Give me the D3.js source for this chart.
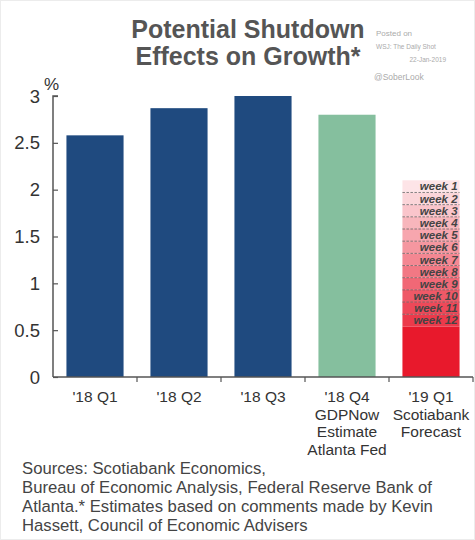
<!DOCTYPE html>
<html>
<head>
<meta charset="utf-8">
<script src="https://cdn.jsdelivr.net/npm/d3@7"></script>
<style>
  body { margin: 0; background: #fff; }
  text { font-family: "Liberation Sans", Arial, sans-serif; }
</style>
</head>
<body>
<svg id="chart"></svg>
<script>
// values
const categories = ["'18 Q1", "'18 Q2", "'18 Q3", "'18 Q4", "'19 Q1"];
const catLines = [["'18 Q1"], ["'18 Q2"], ["'18 Q3"], ["'18 Q4", "GDPNow", "Estimate", "Atlanta Fed"], ["'19 Q1", "Scotiabank", "Forecast"]];
const growth = [2.58, 2.87, 3.0, 2.8, 0.54];
const barKind = ["actual", "actual", "actual", "nowcast", "forecast"];
const weekLabels = ["week 1", "week 2", "week 3", "week 4", "week 5", "week 6", "week 7", "week 8", "week 9", "week 10", "week 11", "week 12"];
const weekCut = [0.13, 0.13, 0.13, 0.13, 0.13, 0.13, 0.13, 0.13, 0.13, 0.13, 0.13, 0.13];
const yTicks = [0, 0.5, 1, 1.5, 2, 2.5, 3];
const sourceLines = [
  "Sources: Scotiabank Economics,",
  "Bureau of Economic Analysis, Federal Reserve Bank of",
  "Atlanta.* Estimates based on comments made by Kevin",
  "Hassett, Council of Economic Advisers"
];

const width = 475, height = 540;
const colors = {actual: "#1f4a7f", nowcast: "#85bf9e", forecast: "#e8192c"};

const svg = d3.select("#chart").attr("width", width).attr("height", height);

svg.append("rect").attr("x", 0.5).attr("y", 0.5).attr("width", width - 1).attr("height", height - 1)
  .attr("fill", "#fff").attr("stroke", "#ececec");

const x = d3.scaleBand().domain(categories).range([53, 473]).paddingInner(0.32).paddingOuter(0.16);
const y = d3.scaleLinear().domain([0, 3]).range([377, 96]);

// title
svg.append("text").attr("x", 248).attr("y", 38).attr("text-anchor", "middle")
  .attr("font-size", 25).attr("font-weight", "bold").attr("fill", "#555").text("Potential Shutdown");
svg.append("text").attr("x", 248).attr("y", 65).attr("text-anchor", "middle")
  .attr("font-size", 25).attr("font-weight", "bold").attr("fill", "#555").text("Effects on Growth*");

// posted-on note
svg.append("text").attr("x", 376).attr("y", 36).attr("font-size", 8).attr("fill", "#aaa").text("Posted on");
svg.append("text").attr("x", 376).attr("y", 49).attr("font-size", 6.5).attr("fill", "#aaa").text("WSJ: The Daily Shot");
svg.append("text").attr("x", 446).attr("y", 62).attr("text-anchor", "end").attr("font-size", 6.5).attr("fill", "#aaa").text("22-Jan-2019");
svg.append("text").attr("x", 374).attr("y", 80).attr("font-size", 8.5).attr("fill", "#aaa").text("@SoberLook");

// y axis
const yAxis = svg.append("g").attr("transform", "translate(53,0)")
  .call(d3.axisRight(y).tickValues(yTicks).tickSize(5).tickFormat(""));
yAxis.select(".domain").attr("stroke", "#555").attr("stroke-width", 1.5).attr("d", `M5,${y(3)}H0V${y(0)}`);
yAxis.selectAll(".tick line").attr("stroke", "#555").attr("stroke-width", 1.2);

svg.append("g").selectAll("text").data(yTicks).join("text")
  .attr("x", 40).attr("y", d => y(d) + 6.5).attr("text-anchor", "end")
  .attr("font-size", 18.5).attr("fill", "#333").text(d => d);
svg.append("text").attr("x", 44).attr("y", 90).attr("font-size", 17).attr("fill", "#333").text("%");

// bars
svg.append("g").selectAll("rect").data(categories).join("rect")
  .attr("x", d => x(d)).attr("width", x.bandwidth())
  .attr("y", (d, i) => y(growth[i])).attr("height", (d, i) => y(0) - y(growth[i]))
  .attr("fill", (d, i) => colors[barKind[i]]);

// shutdown weeks stacked on the forecast bar (week 12 at the bottom)
const fc = categories[4];
let acc = growth[4];
const segs = [];
for (let i = weekCut.length - 1; i >= 0; i--) {
  segs.push({label: weekLabels[i], idx: i, y0: acc, y1: acc + weekCut[i]});
  acc += weekCut[i];
}
const pink = d3.scaleLinear().domain([0, weekCut.length - 1]).range(["#fde4e7", "#ec3a4b"]);
const wk = svg.append("g");
wk.selectAll("rect").data(segs).join("rect")
  .attr("x", x(fc)).attr("width", x.bandwidth())
  .attr("y", d => y(d.y1)).attr("height", d => y(d.y0) - y(d.y1))
  .attr("fill", d => pink(d.idx));
wk.selectAll("line").data(segs.filter(d => d.idx < weekCut.length - 1)).join("line")
  .attr("x1", x(fc)).attr("x2", x(fc) + x.bandwidth())
  .attr("y1", d => y(d.y0)).attr("y2", d => y(d.y0))
  .attr("stroke", "#666").attr("stroke-width", 0.8).attr("stroke-dasharray", "2.5,1.5");
wk.selectAll("text").data(segs).join("text")
  .attr("x", x(fc) + x.bandwidth() - 2).attr("y", d => y(d.y0) - 2)
  .attr("text-anchor", "end").attr("font-size", 11.5).attr("font-weight", "bold")
  .attr("font-style", "italic").attr("fill", "#444").text(d => d.label);

// x axis
const xAxis = svg.append("g").attr("transform", `translate(0,${y(0)})`)
  .call(d3.axisBottom(x).tickSize(0).tickFormat(""));
xAxis.select(".domain").attr("stroke", "#555").attr("stroke-width", 1.5).attr("d", "M53,0H473");
const step = x.step();
xAxis.selectAll("line.sep").data(d3.range(1, categories.length + 1)).join("line")
  .attr("class", "sep")
  .attr("x1", i => 53 + i * step).attr("x2", i => 53 + i * step)
  .attr("y1", 0).attr("y2", 5).attr("stroke", "#555").attr("stroke-width", 1.2);

const xl = svg.append("g");
categories.forEach((c, i) => {
  xl.append("text").attr("x", x(c) + x.bandwidth() / 2).attr("y", 402)
    .attr("text-anchor", "middle").attr("font-size", 15.5).attr("fill", "#333")
    .selectAll("tspan").data(catLines[i]).join("tspan")
    .attr("x", x(c) + x.bandwidth() / 2).attr("dy", (d, j) => j ? 17.5 : 0).text(d => d);
});

// sources
svg.append("text").attr("x", 22).attr("y", 474).attr("font-size", 16.7).attr("fill", "#444")
  .selectAll("tspan").data(sourceLines).join("tspan")
  .attr("x", 22).attr("dy", (d, j) => j ? 19 : 0).text(d => d);
</script>
</body>
</html>
